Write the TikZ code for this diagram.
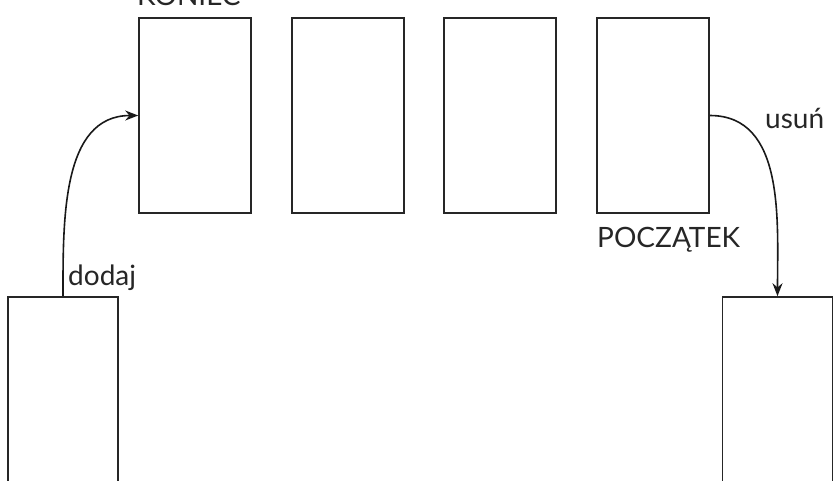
\documentclass[tikz,border=0pt]{standalone}
\usepackage{fontspec}
\setmainfont{Lato}
\usetikzlibrary{arrows.meta}
\tikzset{
  cell/.style={draw=black!85, line width=1.6pt, inner sep=0pt, minimum width=112pt, minimum height=195pt},
  bigcell/.style={draw=black!85, line width=1.6pt, inner sep=0pt, minimum width=110pt, minimum height=263pt},
  lbl/.style={inner sep=0pt, anchor=base west, font=\fontsize{28}{32}\selectfont, text=black!85},
  flow/.style={draw=black!90, line width=1.6pt, -{Stealth[length=13pt,width=10pt]}}
}
\begin{document}
\begin{tikzpicture}[x=1pt,y=-1pt]
\useasboundingbox (0,0) rectangle (840,480);
\clip (0,0) rectangle (840,480);
\node[cell] (k) at (195,115.5) {};
\node[cell] (b2) at (348,115.5) {};
\node[cell] (b3) at (500,115.5) {};
\node[cell] (p) at (653,115.5) {};
\node[bigcell] (in) at (63,428.5) {};
\node[bigcell] (out) at (777.5,428.5) {};
\node[lbl] (tk) at (137,5) {KONIEC};
\node[lbl] (tp) at (597,247) {POCZĄTEK};
\node[lbl] (td) at (68,285) {dodaj};
\node[lbl] (tu) at (765,128) {usuń};
\draw[flow] (in.north) to[out=90,in=180] (k.west);
\draw[flow] (p.east) to[out=0,in=90] (out.north);
\end{tikzpicture}
\end{document}
